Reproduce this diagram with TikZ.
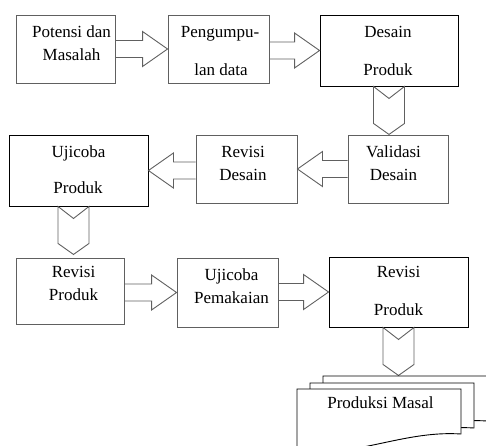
\documentclass[tikz,border=0pt]{standalone}
\usepackage{fontspec}
\setmainfont{Liberation Serif}
\usetikzlibrary{calc}
\definecolor{linegray}{HTML}{606060}
\newcommand{\blockarr}[3]{\draw[arr]let\p1=(#1),\p2=(#2)in(\x1,\y2+8.5)--({\x2-(#3)},\y2+8.5)--({\x2-(#3)},\y2+17.5)--(\x2,\y2)--({\x2-(#3)},\y2-17.5)--({\x2-(#3)},\y2-8.5)--(\x1,\y2-8.5);}
\newcommand{\downchev}[1]{\draw[arr]let\p1=(#1)in(\x1-15.5,\y1)--(\x1,\y1-12)--(\x1+15.5,\y1)--(\x1+15.5,\y1-37)--(\x1,\y1-48)--(\x1-15.5,\y1-37)--cycle;}
\begin{document}
\begin{tikzpicture}[x=1pt,y=-1pt,font=\fontsize{17}{20}\selectfont,
	box/.style={draw,line width=0.9pt,inner sep=0pt},
	grey/.style={draw=linegray},
	txt/.style={anchor=base,inner sep=0pt},
	arr/.style={draw=linegray,line width=0.9pt,line join=miter}]
			\useasboundingbox(0,0)rectangle(486,445);
			\clip(0,0)rectangle(486,445);
			\node[box,grey,minimum width=99,minimum height=68](pm)at(65.5,49){};
			\node[txt](pm1)at(71.5,37.5){Potensi dan};
			\node[txt](pm2)at(71.5,60){Masalah};
			\node[box,grey,minimum width=101,minimum height=68](pdata)at(218.5,49){};
			\node[txt](pdata1)at(220,37.5){Pengumpu-};
			\node[txt](pdata2)at(221,75){lan data};
			\node[box,minimum width=138,minimum height=71](dp)at(389,50.5){};
			\node[txt](dp1)at(388,37.5){Desain};
			\node[txt](dp2)at(388,75){Produk};
			\node[box,minimum width=139,minimum height=71](up)at(78.5,170.5){};
			\node[txt](up1)at(78.5,157.5){Ujicoba};
			\node[txt](up2)at(78,193){Produk};
			\node[box,grey,minimum width=101,minimum height=68](rd)at(246.5,169){};
			\node[txt](rd1)at(243,157){Revisi};
			\node[txt](rd2)at(243,180){Desain};
			\node[box,grey,minimum width=100,minimum height=68](vd)at(398,169){};
			\node[txt](vd1)at(393.5,157){Validasi};
			\node[txt](vd2)at(393.5,180){Desain};
			\node[box,grey,minimum width=108,minimum height=66](rp)at(70,291){};
			\node[txt](rp1)at(73.5,277){Revisi};
			\node[txt](rp2)at(73.5,300.5){Produk};
			\node[box,grey,minimum width=101,minimum height=69](upk)at(227.5,292.5){};
			\node[txt](upk1)at(231.5,280.5){Ujicoba};
			\node[txt](upk2)at(231.5,303){Pemakaian};
			\node[box,minimum width=139,minimum height=70](rpb)at(398.5,292){};
			\node[txt](rpb1)at(398.5,277){Revisi};
			\node[txt](rpb2)at(398.5,315){Produk};
			\blockarr{pm.east}{pdata.west}{25}
			\blockarr{pdata.east}{dp.west}{25}
			\downchev{dp.south}
			\blockarr{vd.west}{rd.east}{-25}
			\blockarr{rd.west}{up.east}{-25}
			\downchev{$(up.south)+(-5,0)$}
			\blockarr{rp.east}{upk.west}{25}
			\blockarr{upk.east}{rpb.west}{25}
			\downchev{rpb.south}
			\foreach\dx/\dy in{26/-13,13/-6,0/0}
				\draw[line width=0.9pt,fill=white,shift={(297+\dx,389+\dy)}](0,0)--(164,0)--(164,45)
					..controls(120,42)and(80,58)..(40,62)..controls(20,64)and(8,62)..(0,60)--cycle;
			\node[txt](pmasal)at(380.5,408){Produksi Masal};
		\end{tikzpicture}
\end{document}
